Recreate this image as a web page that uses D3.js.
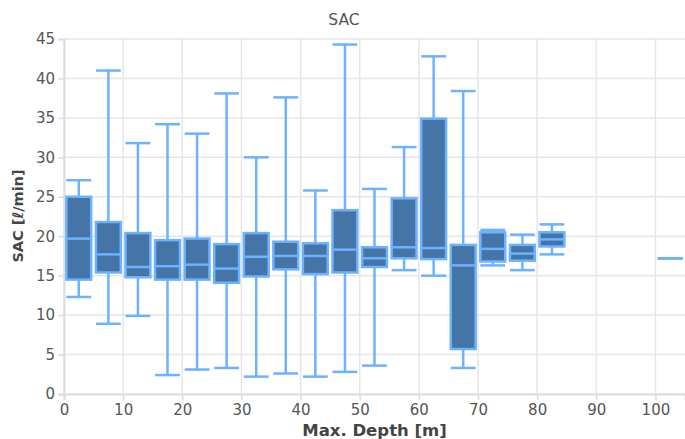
<!DOCTYPE html>
<html>
<head>
<meta charset="utf-8">
<script src="https://cdn.jsdelivr.net/npm/d3@7"></script>
<style>
  body { margin: 0; background: #fff; overflow: hidden; }
  text { font-family: "DejaVu Sans", sans-serif; }
</style>
</head>
<body>
<script>
// depth bins (lower edge, m)
var bins   = [0, 5, 10, 15, 20, 25, 30, 35, 40, 45, 50, 55, 60, 65, 70, 75, 80, 100];
var lowW   = [12.3, 8.9, 9.9, 2.4, 3.1, 3.3, 2.2, 2.6, 2.2, 2.8, 3.6, 15.7, 15.0, 3.3, 16.3, 15.7, 17.7, 17.2];
var q1     = [14.5, 15.4, 14.8, 14.5, 14.5, 14.1, 14.9, 15.8, 15.2, 15.4, 16.1, 17.2, 17.1, 5.7, 16.8, 16.9, 18.7, 17.2];
var median = [19.7, 17.7, 16.1, 16.2, 16.4, 15.9, 17.4, 17.5, 17.5, 18.3, 17.2, 18.6, 18.5, 16.3, 18.4, 17.8, 19.6, 17.2];
var q3     = [25.0, 21.8, 20.4, 19.5, 19.7, 19.0, 20.4, 19.3, 19.1, 23.3, 18.6, 24.8, 34.9, 18.9, 20.5, 18.9, 20.5, 17.2];
var highW  = [27.1, 41.0, 31.8, 34.2, 33.0, 38.1, 30.0, 37.6, 25.8, 44.3, 26.0, 31.3, 42.8, 38.4, 20.8, 20.2, 21.5, 17.2];
var xTicks = [0, 10, 20, 30, 40, 50, 60, 70, 80, 90, 100];
var yTicks = [0, 5, 10, 15, 20, 25, 30, 35, 40, 45];

var margin = {top: 39, right: 0, bottom: 45, left: 64},
    width = 685 - margin.left - margin.right,
    height = 439 - margin.top - margin.bottom;

var x = d3.scaleLinear().domain([0, 105]).range([0, width]);
var y = d3.scaleLinear().domain([0, 45]).range([height, 0]);

var svg = d3.select("body").append("svg")
    .attr("width", 685)
    .attr("height", 439);

svg.append("text")
    .attr("x", 344).attr("y", 25)
    .attr("text-anchor", "middle")
    .style("font-size", "15.5px").style("fill", "#555")
    .text("SAC");

var g = svg.append("g")
    .attr("transform", "translate(" + margin.left + "," + margin.top + ")");

// grid
g.append("g").selectAll("line").data(yTicks).enter().append("line")
    .attr("x1", 0).attr("x2", width)
    .attr("y1", function(d){ return y(d); }).attr("y2", function(d){ return y(d); })
    .style("stroke", "#e6e6e6").style("stroke-width", 1.5);
g.append("g").selectAll("line").data(xTicks).enter().append("line")
    .attr("y1", 0).attr("y2", height)
    .attr("x1", function(d){ return x(d); }).attr("x2", function(d){ return x(d); })
    .style("stroke", "#e6e6e6").style("stroke-width", 1.5);

// axes
var yAxis = g.append("g")
    .call(d3.axisLeft(y).tickValues(yTicks).tickSize(6).tickPadding(3));
var xAxis = g.append("g")
    .attr("transform", "translate(0," + height + ")")
    .call(d3.axisBottom(x).tickValues(xTicks).tickSize(6).tickPadding(4));
[yAxis, xAxis].forEach(function(a){
  a.select(".domain").style("stroke", "#ddd").style("stroke-width", 2);
  a.selectAll(".tick line").style("stroke", "#ddd").style("stroke-width", 1.5);
  a.selectAll("text").style("font-size", "15px").style("fill", "#555")
    .style("font-family", "'DejaVu Sans', sans-serif");
});

svg.append("text")
    .attr("transform", "translate(23," + 216 + ") rotate(-90)")
    .attr("text-anchor", "middle")
    .style("font-size", "14.5px").style("font-weight", "bold").style("fill", "#444")
    .text("SAC [ℓ/min]");
svg.append("text")
    .attr("x", margin.left + width / 2).attr("y", 436)
    .attr("text-anchor", "middle")
    .style("font-size", "16.5px").style("font-weight", "bold").style("fill", "#444")
    .text("Max. Depth [m]");

// boxes
var data = bins.map(function(b, i){
  return {x0: b, lo: lowW[i], q1: q1[i], med: median[i], q3: q3[i], hi: highW[i]};
});
var light = "#6cb2ff", dark = "#4574a6";
var pad = 0.4;

var box = g.selectAll(".box").data(data).enter().append("g").attr("class", "box");

box.append("line")
    .attr("x1", function(d){ return x(d.x0 + 2.5); }).attr("x2", function(d){ return x(d.x0 + 2.5); })
    .attr("y1", function(d){ return y(d.lo); }).attr("y2", function(d){ return y(d.hi); })
    .style("stroke", light).style("stroke-width", 2.5);
["lo", "hi"].forEach(function(k){
  box.append("line")
      .attr("x1", function(d){ return x(d.x0 + pad); }).attr("x2", function(d){ return x(d.x0 + 5 - pad); })
      .attr("y1", function(d){ return y(d[k]); }).attr("y2", function(d){ return y(d[k]); })
      .style("stroke", light).style("stroke-width", 2.5);
});
box.append("rect")
    .attr("x", function(d){ return x(d.x0 + pad); })
    .attr("width", function(d){ return x(5 - 2 * pad) - x(0); })
    .attr("y", function(d){ return y(d.q3); })
    .attr("height", function(d){ return y(d.q1) - y(d.q3); })
    .style("fill", dark).style("stroke", light).style("stroke-width", 2.5);
box.append("line")
    .attr("x1", function(d){ return x(d.x0 + pad); }).attr("x2", function(d){ return x(d.x0 + 5 - pad); })
    .attr("y1", function(d){ return y(d.med); }).attr("y2", function(d){ return y(d.med); })
    .style("stroke", light).style("stroke-width", 2.5);
</script>
</body>
</html>
